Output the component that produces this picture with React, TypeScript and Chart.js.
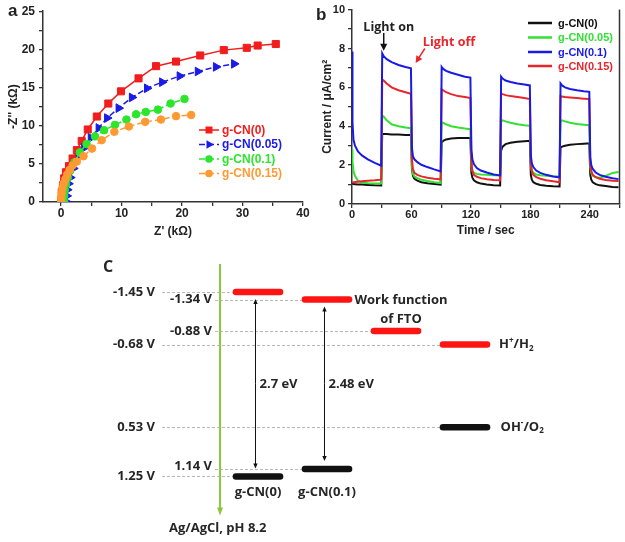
import React, { useEffect, useRef } from "react";
import { Chart, registerables } from "chart.js";

Chart.register(...registerables);

const AXIS_FONT = "'Liberation Sans', Arial, sans-serif";
const LABEL_FONT = "'Open Sans', 'Noto Sans', sans-serif";

// ---------------- Panel a : Nyquist plot ----------------
const eisNames = ["g-CN(0)", "g-CN(0.05)", "g-CN(0.1)", "g-CN(0.15)"];
const zReCN0 = [0, 0.1, 0.3, 0.5, 0.8, 1.3, 1.9, 2.6, 3.4, 4.4, 5.9, 7.8, 9.9, 12.8, 15.7, 19.0, 23.0, 26.9, 30.7, 32.5, 35.5];
const zImCN0 = [0.3, 1.3, 2.2, 3.1, 3.9, 4.7, 5.7, 6.8, 8.0, 9.5, 11.2, 12.9, 14.5, 16.2, 17.8, 18.4, 19.2, 19.9, 20.2, 20.5, 20.7];
const zReCN005 = [0.9, 0.9, 1.0, 1.2, 1.5, 2.0, 2.9, 3.8, 4.9, 6.2, 7.6, 9.5, 11.7, 14.2, 16.7, 19.6, 22.6, 25.6, 28.6];
const zImCN005 = [0, 0.8, 1.6, 2.4, 3.2, 4.4, 5.9, 7.1, 8.4, 9.7, 11.0, 12.3, 13.7, 14.9, 15.7, 16.5, 17.1, 17.7, 18.1];
const zReCN01 = [0.5, 0.5, 0.6, 0.8, 1.1, 1.5, 2.2, 3.1, 4.2, 5.6, 7.1, 8.9, 10.8, 12.4, 14.0, 16.0, 18.1, 20.4];
const zImCN01 = [0, 0.8, 1.6, 2.4, 3.2, 4.1, 5.2, 6.5, 7.6, 8.6, 9.4, 10.1, 10.8, 11.5, 11.8, 12.1, 12.9, 13.5];
const zReCN015 = [0, 0, 0.1, 0.2, 0.4, 0.7, 1.0, 1.4, 1.9, 2.6, 3.7, 5.1, 6.7, 8.8, 11.2, 13.9, 16.5, 19.0, 21.5];
const zImCN015 = [0, 0.6, 1.2, 1.8, 2.4, 3.0, 3.6, 4.2, 4.8, 5.3, 6.0, 7.0, 8.1, 9.2, 9.9, 10.5, 10.8, 11.25, 11.4];
const eisXTicks = [0, 5, 10, 15, 20, 25, 30, 35, 40];
const eisYTicks = [0, 2.5, 5, 7.5, 10, 12.5, 15, 17.5, 20, 22.5, 25];

// ---------------- Panel b : photocurrent ----------------
const photoNames = ["g-CN(0)", "g-CN(0.05)", "g-CN(0.1)", "g-CN(0.15)"];
const timeSec = [
  0, 0.5, 1.5, 3, 6, 10, 16, 23, 29.5,
  30.5, 32, 35, 40, 47, 54, 59.5,
  60.5, 61.5, 63, 66, 70, 76, 83, 89.5,
  90.5, 92, 95, 100, 107, 114, 119.5,
  120.5, 121.5, 123, 126, 130, 136, 143, 149.5,
  150.5, 152, 155, 160, 167, 174, 179.5,
  180.5, 181.5, 183, 186, 190, 196, 203, 209.5,
  210.5, 212, 215, 220, 227, 234, 239.5,
  240.5, 241.5, 243, 246, 250, 256, 263, 269,
];
const currentCN0 = [
  1.05, 1.05, 1.03, 1.02, 1.0, 1.0, 0.98, 0.96, 0.95,
  3.6, 3.6, 3.6, 3.58, 3.57, 3.55, 3.55,
  1.8, 1.45, 1.3, 1.2, 1.12, 1.07, 1.03, 1.0,
  3.15, 3.25, 3.32, 3.37, 3.4, 3.4, 3.4,
  1.6, 1.35, 1.22, 1.12, 1.05, 1.0, 0.97, 0.95,
  2.75, 2.95, 3.08, 3.15, 3.2, 3.23, 3.25,
  1.5, 1.25, 1.12, 1.04, 0.98, 0.94, 0.91, 0.9,
  2.9, 2.95, 3.0, 3.05, 3.08, 3.1, 3.12,
  1.5, 1.25, 1.12, 1.02, 0.96, 0.92, 0.88, 0.86,
];
const currentCN005 = [
  2.8, 2.2, 1.7, 1.45, 1.2, 1.1, 1.07, 1.05, 1.05,
  4.55, 4.5, 4.3, 4.1, 4.0, 3.93, 3.9,
  1.9, 1.55, 1.42, 1.33, 1.25, 1.18, 1.12, 1.08,
  4.2, 4.18, 4.1, 4.0, 3.93, 3.88, 3.85,
  2.0, 1.7, 1.6, 1.55, 1.52, 1.5, 1.48, 1.47,
  4.25, 4.3, 4.25, 4.18, 4.1, 4.05, 4.02,
  2.0, 1.7, 1.6, 1.52, 1.48, 1.45, 1.43, 1.42,
  4.25, 4.3, 4.25, 4.18, 4.12, 4.08, 4.05,
  1.9, 1.6, 1.45, 1.38, 1.35, 1.45, 1.6, 1.65,
];
const currentCN01 = [
  7.85, 4.2, 3.3, 3.0, 2.7, 2.5, 2.3, 2.12, 1.97,
  7.75, 7.6, 7.45, 7.3, 7.15, 7.05, 6.98,
  2.9, 2.45, 2.3, 2.15, 2.02, 1.9, 1.78, 1.68,
  7.05, 6.95, 6.85, 6.75, 6.65, 6.55, 6.5,
  2.8, 2.3, 2.05, 1.85, 1.72, 1.62, 1.52, 1.47,
  6.55, 6.45, 6.35, 6.28, 6.2, 6.15, 6.1,
  2.5, 2.1, 1.9, 1.72, 1.6, 1.5, 1.42, 1.37,
  6.2, 6.1, 6.0, 5.92, 5.85, 5.8, 5.77,
  2.4, 2.0, 1.8, 1.62, 1.5, 1.4, 1.33, 1.28,
];
const currentCN015 = [
  1.1, 1.1, 1.12, 1.13, 1.15, 1.17, 1.2, 1.22, 1.25,
  6.4, 6.35, 6.2, 6.0, 5.85, 5.75, 5.67,
  2.3, 1.8, 1.6, 1.5, 1.42, 1.35, 1.3, 1.27,
  5.9, 5.85, 5.75, 5.65, 5.55, 5.5, 5.45,
  2.2, 1.7, 1.5, 1.4, 1.33, 1.27, 1.23, 1.22,
  5.68, 5.65, 5.6, 5.55, 5.5, 5.45, 5.4,
  2.1, 1.7, 1.5, 1.38, 1.3, 1.22, 1.17, 1.12,
  5.55, 5.53, 5.5, 5.48, 5.45, 5.42, 5.4,
  2.0, 1.7, 1.5, 1.38, 1.3, 1.24, 1.2, 1.18,
];
const timeTicks = [0, 30, 60, 90, 120, 150, 180, 210, 240, 270];
const currentTicks = [0, 1, 2, 3, 4, 5, 6, 7, 8, 9, 10];
const lightOnSec = 30;
const lightOffSec = 60;

// ---------------- Panel c : band diagram ----------------
const bandColumns = ["g-CN(0)", "g-CN(0.1)", "FTO", "H+/H2"];
const reductionLevels = [-1.45, -1.34, -0.88, -0.68];
const oxidationLevels: (number | null)[] = [1.25, 1.14, null, 0.53];
const bandGapTexts = ["2.7 eV", "2.48 eV"];

const pts = (xs: number[], ys: number[]) => xs.map((x, i) => ({ x, y: ys[i] }));

function arrowTo(ctx: any, x1: number, y1: number, x2: number, y2: number, color: string, lw: number, hl: number, hw: number) {
  const a = Math.atan2(y2 - y1, x2 - x1);
  ctx.save();
  ctx.strokeStyle = color;
  ctx.fillStyle = color;
  ctx.lineWidth = lw;
  ctx.setLineDash([]);
  ctx.beginPath();
  ctx.moveTo(x1, y1);
  ctx.lineTo(x2 - Math.cos(a) * hl * 0.7, y2 - Math.sin(a) * hl * 0.7);
  ctx.stroke();
  ctx.beginPath();
  ctx.moveTo(x2, y2);
  ctx.lineTo(x2 - hl * Math.cos(a) + hw * Math.sin(a), y2 - hl * Math.sin(a) - hw * Math.cos(a));
  ctx.lineTo(x2 - hl * Math.cos(a) - hw * Math.sin(a), y2 - hl * Math.sin(a) + hw * Math.cos(a));
  ctx.closePath();
  ctx.fill();
  ctx.restore();
}

function drawRich(ctx: any, parts: { t: string; sup?: boolean; sub?: boolean }[], x: number, y: number, size: number) {
  let cx = x;
  for (const p of parts) {
    const s = p.sup || p.sub ? Math.round(size * 0.62) : size;
    ctx.font = `bold ${s}px ${LABEL_FONT}`;
    const dy = p.sup ? -size * 0.33 : p.sub ? size * 0.3 : 0;
    ctx.fillText(p.t, cx, y + dy);
    cx += ctx.measureText(p.t).width;
  }
}

function marker(ctx: any, style: string, x: number, y: number, color: string) {
  ctx.fillStyle = color;
  ctx.beginPath();
  if (style === "rect") {
    ctx.rect(x - 3.5, y - 3.5, 7, 7);
  } else if (style === "triangle") {
    ctx.moveTo(x + 5, y);
    ctx.lineTo(x - 2.5, y - 4.3);
    ctx.lineTo(x - 2.5, y + 4.3);
    ctx.closePath();
  } else {
    ctx.arc(x, y, 3.8, 0, Math.PI * 2);
  }
  ctx.fill();
}

const eisStyle = [
  { color: "#f21d1d", style: "rect", radius: 5, rotation: 0, dash: [] as number[] },
  { color: "#1b1be8", style: "triangle", radius: 5, rotation: 90, dash: [6, 3] },
  { color: "#2ce62c", style: "circle", radius: 3.8, rotation: 0, dash: [6, 3] },
  { color: "#ff9a33", style: "circle", radius: 3.8, rotation: 0, dash: [6, 3] },
];
const photoColors = ["#111111", "#33e033", "#1a1ae6", "#e8262b"];

const tickFont = (size: number) => ({ family: AXIS_FONT, size, weight: "bold" as const });

function makeA(canvas: HTMLCanvasElement) {
  const eisRe = [zReCN0, zReCN005, zReCN01, zReCN015];
  const eisIm = [zImCN0, zImCN005, zImCN01, zImCN015];
  const plugin = {
    id: "panelA",
    afterDraw(chart: any) {
      const ctx = chart.ctx;
      ctx.save();
      ctx.fillStyle = "#222";
      ctx.font = `bold 17px ${AXIS_FONT}`;
      ctx.textBaseline = "middle";
      ctx.textAlign = "left";
      ctx.fillText("a", 8, 11);
      const rows = [130, 144.5, 159, 173.5];
      chart.data.datasets.forEach((ds: any, i: number) => {
        const st = eisStyle[i];
        const y = rows[i];
        ctx.strokeStyle = st.color;
        ctx.lineWidth = 1.5;
        ctx.setLineDash(st.dash);
        ctx.beginPath();
        ctx.moveTo(199, y);
        ctx.lineTo(219, y);
        ctx.stroke();
        ctx.setLineDash([]);
        marker(ctx, st.style, 209, y, st.color);
        ctx.fillStyle = st.color;
        ctx.font = `bold 12px ${AXIS_FONT}`;
        ctx.fillText(ds.label, 222, y + 0.5);
      });
      ctx.restore();
    },
  };
  return new Chart(canvas, {
    type: "scatter",
    data: {
      datasets: eisNames.map((name, i) => ({
        label: name,
        data: pts(eisRe[i], eisIm[i]),
        showLine: true,
        borderColor: eisStyle[i].color,
        backgroundColor: eisStyle[i].color,
        borderWidth: 1.5,
        borderDash: eisStyle[i].dash,
        pointStyle: eisStyle[i].style,
        pointRadius: eisStyle[i].radius,
        pointRotation: eisStyle[i].rotation,
        pointBorderWidth: 1,
        order: 3 - i,
      })),
    },
    options: {
      responsive: false,
      animation: false,
      devicePixelRatio: 1,
      events: [],
      layout: { padding: { left: 0, top: 9, right: 17, bottom: 0 } },
      plugins: { legend: { display: false }, tooltip: { enabled: false } },
      scales: {
        x: {
          type: "linear",
          min: -3,
          max: 40,
          afterBuildTicks: (s: any) => {
            s.ticks = eisXTicks.map((v) => ({ value: v }));
          },
          afterFit: (s: any) => {
            s.height = 43;
          },
          ticks: {
            autoSkip: false,
            maxRotation: 0,
            padding: 0,
            color: "#222",
            font: tickFont(12),
            callback: (v: any) => (Number(v) % 10 === 0 ? String(v) : ""),
          },
          grid: { drawOnChartArea: false, drawTicks: true, tickLength: 4, color: "#333", lineWidth: 1.3 },
          border: { color: "#333", width: 1.5 },
          title: { display: true, text: "Z' (kΩ)", color: "#222", font: tickFont(12), padding: { top: 0, bottom: 6 } },
        },
        y: {
          type: "linear",
          min: 0,
          max: 25,
          afterBuildTicks: (s: any) => {
            s.ticks = eisYTicks.map((v) => ({ value: v }));
          },
          afterFit: (s: any) => {
            s.width = 43;
          },
          ticks: {
            autoSkip: false,
            padding: 4,
            color: "#222",
            font: tickFont(12),
            callback: (v: any) => (Number(v) % 5 === 0 ? String(v) : ""),
          },
          grid: { drawOnChartArea: false, drawTicks: true, tickLength: 4, color: "#333", lineWidth: 1.3 },
          border: { color: "#333", width: 1.5 },
          title: { display: true, text: "-Z'' (kΩ)", color: "#222", font: tickFont(12), padding: { top: 6, bottom: 0 } },
        },
      },
    } as any,
    plugins: [plugin],
  });
}

function makeB(canvas: HTMLCanvasElement) {
  const series = [currentCN0, currentCN005, currentCN01, currentCN015];
  const drawOrder = [3, 2, 0, 1];
  const plugin = {
    id: "panelB",
    afterDraw(chart: any) {
      const ctx = chart.ctx;
      const xs = chart.scales.x;
      const ys = chart.scales.y;
      const area = chart.chartArea;
      ctx.save();
      ctx.strokeStyle = "#333";
      ctx.lineWidth = 1.5;
      ctx.beginPath();
      ctx.moveTo(area.right, area.top);
      ctx.lineTo(area.right, area.bottom);
      ctx.stroke();
      ctx.fillStyle = "#222";
      ctx.font = `bold 17px ${AXIS_FONT}`;
      ctx.textBaseline = "middle";
      ctx.textAlign = "left";
      ctx.fillText("b", 6, 15);
      const rows = [23, 37.5, 52, 66];
      chart.data.datasets.forEach((ds: any, i: number) => {
        const y = rows[i];
        ctx.strokeStyle = ds.borderColor;
        ctx.lineWidth = 2.5;
        ctx.beginPath();
        ctx.moveTo(218, y);
        ctx.lineTo(242, y);
        ctx.stroke();
        ctx.fillStyle = ds.borderColor;
        ctx.font = `bold 11px ${AXIS_FONT}`;
        ctx.fillText(ds.label, 248, y + 0.5);
      });
      const onX = xs.getPixelForValue(lightOnSec) + 2;
      ctx.fillStyle = "#222";
      ctx.font = `bold 12.5px ${LABEL_FONT}`;
      ctx.textAlign = "center";
      ctx.fillText("Light on", onX + 5, ys.getPixelForValue(9.1));
      arrowTo(ctx, onX, ys.getPixelForValue(8.8), onX, ys.getPixelForValue(7.88), "#111", 1.5, 7, 3.5);
      const offTipX = xs.getPixelForValue(lightOffSec + 4.2);
      arrowTo(ctx, xs.getPixelForValue(lightOffSec + 13.5), ys.getPixelForValue(8.0), offTipX, ys.getPixelForValue(7.25), "#e8262b", 1.5, 7, 3.5);
      ctx.fillStyle = "#e8262b";
      ctx.textAlign = "left";
      ctx.fillText("Light off", xs.getPixelForValue(lightOffSec + 11.5), ys.getPixelForValue(8.3));
      ctx.restore();
    },
  };
  return new Chart(canvas, {
    type: "line",
    data: {
      datasets: photoNames.map((name, i) => ({
        label: name,
        data: pts(timeSec, series[i]),
        borderColor: photoColors[i],
        backgroundColor: photoColors[i],
        borderWidth: 2,
        pointRadius: 0,
        tension: 0,
        fill: false,
        order: drawOrder[i],
      })),
    },
    options: {
      responsive: false,
      animation: false,
      devicePixelRatio: 1,
      events: [],
      layout: { padding: { left: 0, top: 8, right: 5.5, bottom: 0 } },
      plugins: { legend: { display: false }, tooltip: { enabled: false } },
      scales: {
        x: {
          type: "linear",
          min: 0,
          max: 270,
          afterBuildTicks: (s: any) => {
            s.ticks = timeTicks.map((v) => ({ value: v }));
          },
          afterFit: (s: any) => {
            s.height = 41;
          },
          ticks: {
            autoSkip: false,
            maxRotation: 0,
            padding: 0,
            color: "#222",
            font: tickFont(11),
            callback: (v: any) => (Number(v) % 60 === 0 && Number(v) < 270 ? String(v) : ""),
          },
          grid: { drawOnChartArea: false, drawTicks: true, tickLength: 4, color: "#333", lineWidth: 1.3 },
          border: { color: "#333", width: 1.5 },
          title: { display: true, text: "Time / sec", color: "#222", font: tickFont(12), padding: { top: 0, bottom: 7 } },
        },
        y: {
          type: "linear",
          min: 0,
          max: 10,
          afterBuildTicks: (s: any) => {
            s.ticks = currentTicks.map((v) => ({ value: v }));
          },
          afterFit: (s: any) => {
            s.width = 42;
          },
          ticks: {
            autoSkip: false,
            padding: 3,
            color: "#222",
            font: tickFont(11),
            callback: (v: any) => (Number(v) % 2 === 0 ? String(v) : ""),
          },
          grid: { drawOnChartArea: false, drawTicks: true, tickLength: 4, color: "#333", lineWidth: 1.3 },
          border: { color: "#333", width: 1.5 },
          title: { display: true, text: "Current / μA/cm²", color: "#222", font: tickFont(12), padding: { top: 10, bottom: 0 } },
        },
      },
    } as any,
    plugins: [plugin],
  });
}

const BAR_HALF = 0.32;

function makeC(canvas: HTMLCanvasElement) {
  const datasets: any[] = [];
  bandColumns.forEach((col, i) => {
    datasets.push({
      label: col + " reduction",
      data: [
        { x: i - BAR_HALF, y: reductionLevels[i] },
        { x: i + BAR_HALF, y: reductionLevels[i] },
      ],
      showLine: true,
      borderColor: "#ff1414",
      borderWidth: 6.5,
      borderCapStyle: "round",
      pointRadius: 0,
    });
    const ox = oxidationLevels[i];
    if (ox !== null) {
      datasets.push({
        label: col + " oxidation",
        data: [
          { x: i - BAR_HALF, y: ox },
          { x: i + BAR_HALF, y: ox },
        ],
        showLine: true,
        borderColor: "#111111",
        borderWidth: 6.5,
        borderCapStyle: "round",
        pointRadius: 0,
      });
    }
  });

  const levelItems = () => {
    const items: { v: number; col: number }[] = [];
    reductionLevels.forEach((v, i) => items.push({ v, col: i }));
    oxidationLevels.forEach((v, i) => {
      if (v !== null) items.push({ v, col: i });
    });
    return items;
  };

  const plugin = {
    id: "panelC",
    beforeDatasetsDraw(chart: any) {
      const ctx = chart.ctx;
      const xs = chart.scales.x;
      const ys = chart.scales.y;
      ctx.save();
      ctx.strokeStyle = "#b8b8b8";
      ctx.lineWidth = 1;
      ctx.setLineDash([3, 2]);
      levelItems().forEach(({ v, col }) => {
        const y = Math.round(ys.getPixelForValue(v)) + 0.5;
        const leftGroup = col === 0 || col === 3;
        const x0 = leftGroup ? 162 : 215;
        const x1 = xs.getPixelForValue(col - BAR_HALF) - 3;
        ctx.beginPath();
        ctx.moveTo(x0, y);
        ctx.lineTo(x1, y);
        ctx.stroke();
      });
      ctx.restore();
    },
    afterDatasetsDraw(chart: any) {
      const ctx = chart.ctx;
      const xs = chart.scales.x;
      const ys = chart.scales.y;
      ctx.save();
      ctx.textBaseline = "middle";
      const txt = "#262626";
      const F = `bold 13px ${LABEL_FONT}`;

      const gx = xs.getPixelForValue(-0.55);
      arrowTo(ctx, gx, ys.getPixelForValue(-1.86), gx, ys.getPixelForValue(1.82), "#8cc63f", 2, 8, 3);

      ctx.fillStyle = txt;
      ctx.font = F;
      ctx.textAlign = "right";
      levelItems().forEach(({ v, col }) => {
        const leftGroup = col === 0 || col === 3;
        const xr = leftGroup ? 155 : 212;
        const dy = col === 1 && v > 0 ? -3 : 0;
        ctx.fillText(v.toFixed(2) + " V", xr, ys.getPixelForValue(v) + dy);
      });

      bandGapTexts.forEach((t, i) => {
        const ox = oxidationLevels[i] as number;
        const ax = xs.getPixelForValue(i) - 2.5;
        const yTop = ys.getPixelForValue(reductionLevels[i]) + 7;
        const yBot = ys.getPixelForValue(ox) - 8;
        const mid = (yTop + yBot) / 2;
        arrowTo(ctx, ax, mid, ax, yTop, "#111", 1, 5, 2.2);
        arrowTo(ctx, ax, mid, ax, yBot, "#111", 1, 5, 2.2);
        ctx.fillStyle = txt;
        ctx.font = F;
        ctx.textAlign = "left";
        ctx.fillText(t, ax + 4, (ys.getPixelForValue(reductionLevels[i]) + ys.getPixelForValue(ox)) / 2);
      });

      ctx.textAlign = "center";
      ctx.fillStyle = txt;
      ctx.font = F;
      const nameY = ys.getPixelForValue(oxidationLevels[0] as number) + 16;
      ctx.fillText(bandColumns[0], xs.getPixelForValue(0), nameY);
      ctx.fillText(bandColumns[1], xs.getPixelForValue(1), nameY);

      const fx = xs.getPixelForValue(2) + 5;
      const fy = ys.getPixelForValue(reductionLevels[2]);
      ctx.fillText("Work function", fx, fy - 31);
      ctx.fillText("of FTO", fx, fy - 12);

      ctx.textAlign = "left";
      const rx = xs.getPixelForValue(3 + BAR_HALF);
      drawRich(ctx, [{ t: "H" }, { t: "+", sup: true }, { t: "/H" }, { t: "2", sub: true }], rx + 12, ys.getPixelForValue(reductionLevels[3]), 13);
      drawRich(ctx, [{ t: "OH" }, { t: "-", sup: true }, { t: "/O" }, { t: "2", sub: true }], rx + 13.5, ys.getPixelForValue(oxidationLevels[3] as number), 13);

      ctx.fillStyle = txt;
      ctx.font = `bold 16px ${LABEL_FONT}`;
      ctx.fillText("C", 103, 22);
      ctx.font = F;
      ctx.fillText("Ag/AgCl, pH 8.2", 169, 283);
      ctx.restore();
    },
  };

  return new Chart(canvas, {
    type: "scatter",
    data: { datasets },
    options: {
      responsive: false,
      animation: false,
      devicePixelRatio: 1,
      events: [],
      layout: { padding: 0 },
      plugins: { legend: { display: false }, tooltip: { enabled: false } },
      scales: {
        x: { type: "linear", display: false, min: -3.739, max: 5.319 },
        y: { type: "linear", display: false, reverse: true, min: -2.138, max: 2.209 },
      },
    } as any,
    plugins: [plugin],
  });
}

export default function App() {
  const aRef = useRef<HTMLCanvasElement>(null);
  const bRef = useRef<HTMLCanvasElement>(null);
  const cRef = useRef<HTMLCanvasElement>(null);
  useEffect(() => {
    const charts = [makeA(aRef.current!), makeB(bRef.current!), makeC(cRef.current!)];
    return () => charts.forEach((c) => c.destroy());
  }, []);
  return (
    <div style={{ position: "absolute", left: 0, top: 0, width: 625, height: 542, background: "#fff", overflow: "hidden" }}>
      <canvas ref={aRef} width={320} height={245} style={{ position: "absolute", left: 0, top: 0, width: 320, height: 245 }} />
      <canvas ref={bRef} width={315} height={245} style={{ position: "absolute", left: 310, top: 0, width: 315, height: 245 }} />
      <canvas ref={cRef} width={625} height={297} style={{ position: "absolute", left: 0, top: 245, width: 625, height: 297 }} />
    </div>
  );
}
